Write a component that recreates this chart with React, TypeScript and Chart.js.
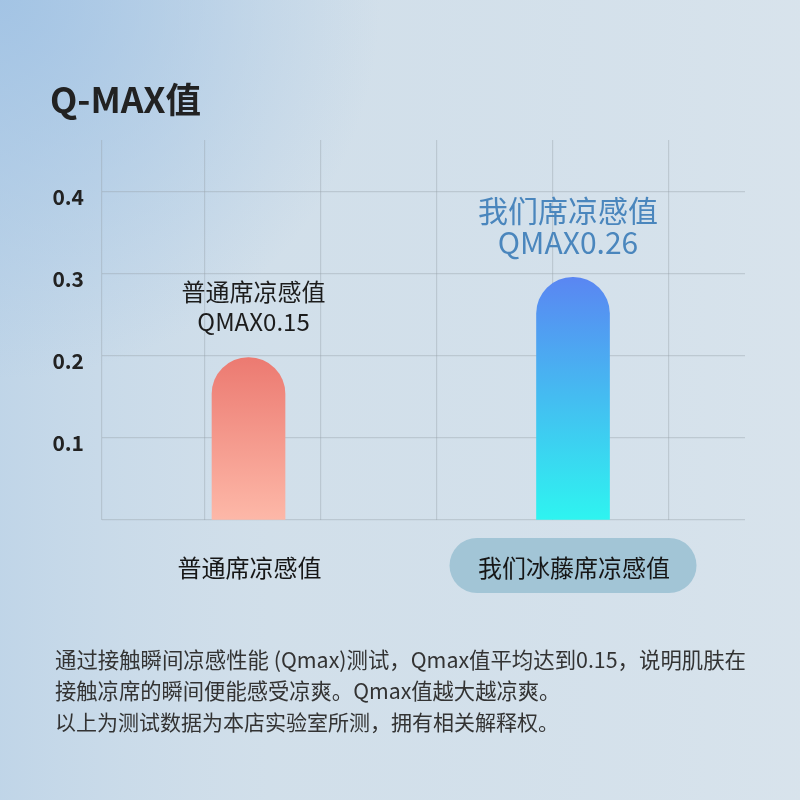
import React, { useEffect, useRef } from "react";
import { Chart, registerables } from "chart.js";

Chart.register(...registerables);

const categories = ["普通席凉感值", "我们冰藤席凉感值"];
const barValues = [0.198, 0.296];
const noteLines = [
  ["普通席凉感值", "QMAX0.15"],
  ["我们席凉感值", "QMAX0.26"],
];
const yTicks = [0, 0.1, 0.2, 0.3, 0.4];
const titleText = "Q-MAX值";
const footerLines = [
  "通过接触瞬间凉感性能 (Qmax)测试，Qmax值平均达到0.15，说明肌肤在",
  "接触凉席的瞬间便能感受凉爽。Qmax值越大越凉爽。",
  "以上为测试数据为本店实验室所测，拥有相关解释权。",
];

const barColors = [
  ["#ec7a71", "#fdb8a8"],
  ["#5a86f2", "#2ef4f0"],
];

const CJK = '"Noto Sans CJK SC", "Noto Sans", sans-serif';

const bgPlugin = {
  id: "bg",
  beforeDraw(chart: any) {
    const { ctx, width, height } = chart;
    ctx.save();
    ctx.fillStyle = "#d3e0ea";
    ctx.fillRect(0, 0, width, height);
    const lg = ctx.createLinearGradient(0, 0, width, 0);
    lg.addColorStop(0, "rgba(176,204,230,0.55)");
    lg.addColorStop(0.35, "rgba(200,218,234,0.15)");
    lg.addColorStop(1, "rgba(225,233,240,0.35)");
    ctx.fillStyle = lg;
    ctx.fillRect(0, 0, width, height);
    const rg = ctx.createRadialGradient(0, 0, 0, 0, 0, 380);
    rg.addColorStop(0, "rgba(160,194,228,0.9)");
    rg.addColorStop(1, "rgba(160,194,228,0)");
    ctx.fillStyle = rg;
    ctx.fillRect(0, 0, width, height);
    ctx.restore();
  },
};

const textPlugin = {
  id: "texts",
  afterDraw(chart: any) {
    const { ctx } = chart;
    const xs = chart.scales.x;
    const ys = chart.scales.y;
    ctx.save();
    // title
    ctx.fillStyle = "#222";
    ctx.font = `bold 35.5px ${CJK}`;
    ctx.textAlign = "left";
    ctx.textBaseline = "middle";
    ctx.fillText(titleText, 50, 100);

    // notes above bars
    barValues.forEach((v, i) => {
      const cx = xs.getPixelForValue(i);
      const top = ys.getPixelForValue(v);
      ctx.textAlign = "center";
      ctx.textBaseline = "middle";
      if (i === 0) {
        ctx.fillStyle = "#1c1c1c";
        ctx.font = `24px ${CJK}`;
        ctx.fillText(noteLines[i][0], cx + 5, top - 66);
        ctx.fillText(noteLines[i][1], cx + 5, top - 36);
      } else {
        ctx.fillStyle = "#4a86bd";
        ctx.font = `30px ${CJK}`;
        ctx.fillText(noteLines[i][0], cx - 5, top - 67);
        ctx.fillText(noteLines[i][1], cx - 5, top - 35);
      }
    });

    // category labels
    categories.forEach((c, i) => {
      const cx = xs.getPixelForValue(i);
      if (i === 1) {
        const w = 247;
        const h = 55;
        const x0 = cx - w / 2;
        const y0 = 538;
        ctx.fillStyle = "#a2c5d6";
        ctx.beginPath();
        ctx.roundRect(x0, y0, w, h, h / 2);
        ctx.fill();
      }
      ctx.fillStyle = "#161616";
      ctx.font = `24px ${CJK}`;
      ctx.textAlign = "center";
      ctx.textBaseline = "middle";
      ctx.fillText(c, cx + (i === 0 ? 1 : 1), 568);
    });

    // footer
    ctx.fillStyle = "#333";
    ctx.textAlign = "left";
    ctx.textBaseline = "middle";
    footerLines.forEach((l, i) => {
      ctx.font = `${[21.4, 21.3, 21][i]}px ${CJK}`;
      ctx.fillText(l, 55, [660, 691, 722][i]);
    });
    ctx.restore();
  },
};

export default function App() {
  const ref = useRef<HTMLCanvasElement>(null);
  useEffect(() => {
    document.body.style.margin = "0";
    const canvas = ref.current!;
    const chart = new Chart(canvas, {
      type: "bar",
      data: {
        datasets: [
          {
            data: barValues.map((v, i) => ({ x: i, y: v })),
            barThickness: 73,
            borderRadius: { topLeft: 37, topRight: 37, bottomLeft: 0, bottomRight: 0 },
            borderSkipped: "bottom",
            backgroundColor: (c: any) => {
              const chart = c.chart;
              const i = c.dataIndex;
              const col = barColors[i] || barColors[0];
              if (!chart.chartArea || i === undefined) return col[0];
              const ys = chart.scales.y;
              const top = ys.getPixelForValue(barValues[i]);
              const bottom = ys.getPixelForValue(0);
              const g = chart.ctx.createLinearGradient(0, top, 0, bottom);
              g.addColorStop(0, col[0]);
              g.addColorStop(1, col[1]);
              return g;
            },
          } as any,
        ],
      },
      options: {
        animation: false,
        responsive: false,
        layout: { padding: { left: 0, right: 55, top: 140, bottom: 280 } },
        plugins: { legend: { display: false }, tooltip: { enabled: false } },
        scales: {
          x: {
            type: "linear",
            min: -0.4515,
            max: 1.53,
            offset: false,
            grid: { display: false, offset: false },
            border: { display: false },
            ticks: { display: false },
            afterFit: (s: any) => {
              s.height = 0;
            },
          },
          xg: {
            type: "linear",
            position: "bottom",
            min: -0.888,
            max: 4.655,
            offset: false,
            grid: { color: "rgba(150,160,168,0.38)", lineWidth: 1.2, drawTicks: false, offset: false },
            border: { display: false },
            ticks: { display: false },
            afterBuildTicks: (s: any) => {
              s.ticks = [s.min, 0, 1, 2, 3, 4].map((v: number) => ({ value: v }));
            },
            afterFit: (s: any) => {
              s.height = 0;
            },
          },
          y: {
            type: "linear",
            min: 0,
            max: 0.4634,
            border: { display: false },
            grid: { color: "rgba(150,160,168,0.38)", lineWidth: 1.2, drawTicks: false },
            afterBuildTicks: (s: any) => {
              s.ticks = yTicks.map((v) => ({ value: v }));
            },
            afterFit: (s: any) => {
              s.width = 102;
            },
            ticks: {
              padding: 18,
              labelOffset: 5,
              color: "#222",
              font: { family: CJK, size: 21, weight: "bold" },
              callback: (v: any) => (v === 0 ? "" : Number(v).toFixed(1)),
            },
          },
        },
      },
      plugins: [bgPlugin, textPlugin],
    });
    return () => chart.destroy();
  }, []);
  return <canvas ref={ref} width={800} height={800} style={{ display: "block" }} />;
}
